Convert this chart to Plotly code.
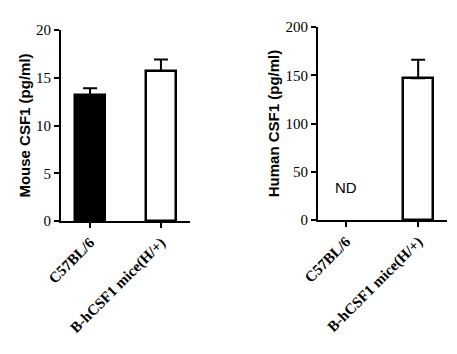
import plotly.graph_objects as go

categories = ["C57BL/6", "B-hCSF1 mice(H/+)"]
mouse_values = [13.2, 15.7]
mouse_err = [0.7, 1.2]
human_values = [0, 147]
human_err = [0, 19]
mouse_ticks = [0, 5, 10, 15, 20]
human_ticks = [0, 50, 100, 150, 200]

W, H = 457, 354
fig = go.Figure()

fig.add_trace(go.Bar(
    x=[0, 1], y=mouse_values, width=0.42,
    marker=dict(color=["black", "white"], line=dict(color="black", width=2.5)),
    error_y=dict(type="data", array=mouse_err, arrayminus=[0, 0], symmetric=False,
                 color="black", thickness=2, width=7),
    xaxis="x", yaxis="y", showlegend=False))

fig.add_trace(go.Bar(
    x=[1], y=[human_values[1]], width=0.42,
    marker=dict(color="white", line=dict(color="black", width=2.5)),
    error_y=dict(type="data", array=[human_err[1]], arrayminus=[0], symmetric=False,
                 color="black", thickness=2, width=7),
    xaxis="x2", yaxis="y2", showlegend=False))

tickfont = dict(family="Liberation Serif", size=15, color="black")
xtickfont = dict(family="Liberation Serif", size=15, color="black", weight="bold")
titlefont = dict(family="Liberation Sans", size=15, color="black", weight="bold")

common_x = dict(tickmode="array", tickvals=[0, 1], ticktext=categories, tickangle=-45,
                showline=True, linecolor="black", linewidth=2, ticks="outside",
                ticklen=5, tickwidth=2, tickcolor="black", showgrid=False,
                zeroline=False, tickfont=xtickfont, fixedrange=True, automargin=False)
common_y = dict(showline=True, linecolor="black", linewidth=2, ticks="outside",
                ticklen=5, tickwidth=2, tickcolor="black", showgrid=False,
                zeroline=False, tickfont=tickfont, fixedrange=True, automargin=False)

fig.update_layout(
    width=W, height=H, margin=dict(l=0, r=0, t=0, b=0),
    paper_bgcolor="white", plot_bgcolor="white", bargap=0,
    xaxis=dict(domain=[61 / W, 190 / W], range=[-0.41, 1.41], anchor="y", **common_x),
    yaxis=dict(domain=[1 - 221 / H, 1 - 30 / H], range=[0, 20], tickvals=mouse_ticks,
               anchor="x", title=dict(text="Mouse CSF1 (pg/ml)", font=titlefont, standoff=2),
               **common_y),
    xaxis2=dict(domain=[318 / W, 447 / W], range=[-0.39, 1.40], anchor="y2", **common_x),
    yaxis2=dict(domain=[1 - 220 / H, 1 - 27 / H], range=[0, 200], tickvals=human_ticks,
                anchor="x2", title=dict(text="Human CSF1 (pg/ml)", font=titlefont, standoff=2),
                **common_y),
    annotations=[dict(text="ND", x=0, y=34, xref="x2", yref="y2", showarrow=False,
                      font=dict(family="Liberation Sans", size=15, color="black"))],
)

fig.write_html("out.html")
